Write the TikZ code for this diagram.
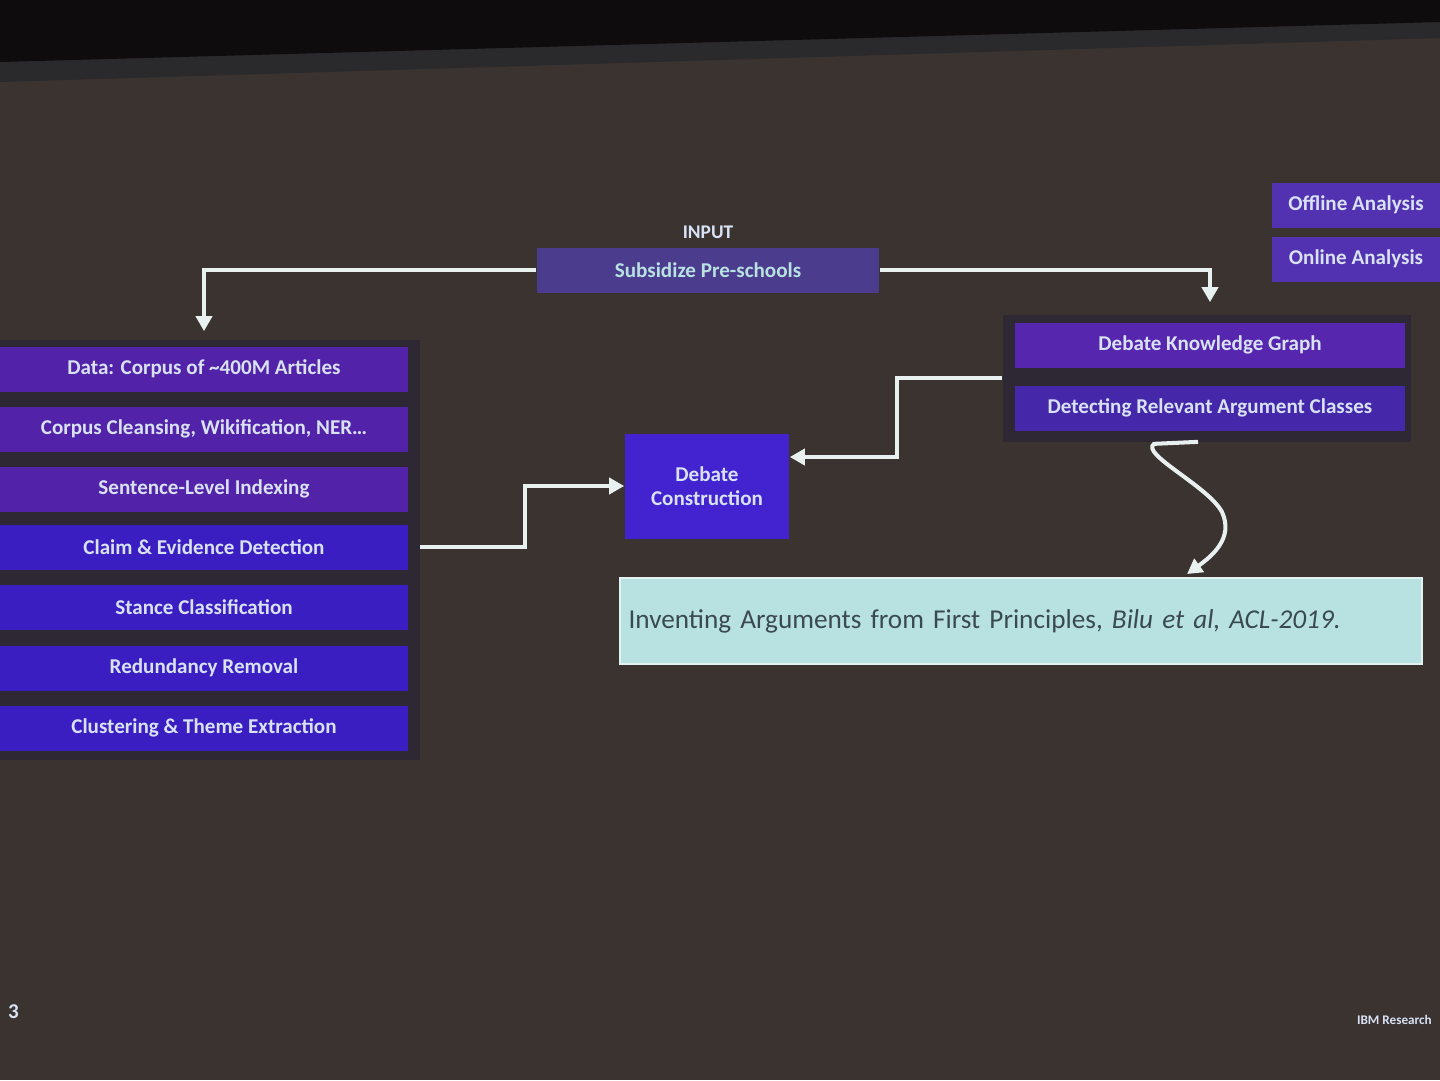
\documentclass[tikz,border=0pt]{standalone}
\usepackage{fontspec}
\setmainfont{Carlito}
\usepackage{xcolor}
\usetikzlibrary{arrows.meta}

\definecolor{slidebg}{HTML}{3B3330}
\definecolor{screenedge}{HTML}{0E0C0C}
\definecolor{screenrim}{HTML}{2A292C}
\definecolor{topicfill}{HTML}{4B3C8E}
\definecolor{purplebox}{HTML}{5222A8}
\definecolor{bluebox}{HTML}{3B1EC2}
\definecolor{dcfill}{HTML}{4322D0}
\definecolor{kgfill}{HTML}{5627AE}
\definecolor{argfill}{HTML}{4528AA}
\definecolor{anafill}{HTML}{5232B0}
\definecolor{panelfill}{HTML}{2E2834}
\definecolor{citefill}{HTML}{B8E2E2}
\definecolor{citeline}{HTML}{E2F2F2}
\definecolor{citetext}{HTML}{3A4A50}
\definecolor{boxtext}{HTML}{D8E2F4}
\definecolor{flowcol}{HTML}{E8F0F0}

\begin{document}
\begin{tikzpicture}[x=0.02cm, y=-0.02cm,
	box/.style={fill=#1, text=boxtext, font=\fontsize{12}{14}\selectfont\bfseries,
		inner sep=0pt, minimum height=0.9cm},
	stackbox/.style={box=#1, minimum width=8.16cm},
	flow/.style={draw=flowcol, line width=2.3pt, -{Triangle[length=0.3cm, width=0.32cm]}}]

\useasboundingbox (0,0) rectangle (1440,1080);
\clip (0,0) rectangle (1440,1080);

% slide and screen edge
\fill[slidebg] (0,0) rectangle (1440,1080);
\fill[screenrim] (0,0) -- (1440,0) -- (1440,38) -- (0,82) -- cycle;
\fill[screenedge] (0,0) -- (1440,0) -- (1440,22) -- (0,62) -- cycle;

% input topic
\node[text=boxtext, font=\fontsize{11}{13}\selectfont\bfseries] (inputlbl) at (708,232) {INPUT};
\node[box=topicfill, minimum width=6.86cm, text=citefill] (topic) at (708,270) {Subsidize Pre-schools};

% corpus pipeline
\node[fill=panelfill, minimum width=8.4cm, minimum height=8.4cm, inner sep=0pt] (corpus) at (210,550) {};
\node[stackbox=purplebox] (data) at (204,369) {Data: Corpus of \textasciitilde400M Articles};
\node[stackbox=purplebox] (cleansing) at (204,429) {Corpus Cleansing, Wikification, NER\dots};
\node[stackbox=purplebox] (indexing) at (204,489) {Sentence-Level Indexing};
\node[stackbox=bluebox] (claim) at (204,547) {Claim \& Evidence Detection};
\node[stackbox=bluebox] (stance) at (204,607) {Stance Classification};
\node[stackbox=bluebox] (redundancy) at (204,668) {Redundancy Removal};
\node[stackbox=bluebox] (clustering) at (204,728) {Clustering \& Theme Extraction};

% debate construction
\node[box=dcfill, minimum width=3.3cm, minimum height=2.1cm, align=center] (dc) at (707,486) {Debate\\Construction};

% knowledge graph side
\node[fill=panelfill, minimum width=8.18cm, minimum height=2.54cm, inner sep=0pt] (kgpanel) at (1207,378) {};
\node[box=kgfill, minimum width=7.8cm] (kg) at (1210,345) {Debate Knowledge Graph};
\node[box=argfill, minimum width=7.8cm] (argclass) at (1210,408) {Detecting Relevant Argument Classes};

\node[box=anafill, minimum width=3.36cm] (offline) at (1356,205) {Offline Analysis};
\node[box=anafill, minimum width=3.36cm] (online) at (1356,259) {Online Analysis};

% reference
\node[fill=citefill, draw=citeline, line width=1.2pt, minimum width=16.04cm, minimum height=1.72cm,
	text=citetext, font=\fontsize{15.5}{18}\selectfont, text width=15.7cm, align=left] (cite) at (1021,621)
	{Inventing Arguments from First Principles, \textit{Bilu et al, ACL-2019.}};

% connectors
\draw[flow, shorten >=0.3cm] (topic.west) -| (data.north);
\draw[flow, shorten >=0.4cm] (topic.east) -| (kg.north);
\draw[flow] (corpus.east |- claim) -- ++(105,0) |- (dc.west);
\draw[flow] (kgpanel.west) -- ++(-105,0) |- ([yshift=0.58cm]dc.east);
\draw[flow, shorten >=0.1cm] ([xshift=-0.18cm]kgpanel.south) -- ++(-44,2)
	.. controls ++(-14,10) and (1208,486) .. (1222,512)
	.. controls (1234,538) and (1212,556) .. ([xshift=3.24cm]cite.north);

% footer
\node[text=boxtext, font=\fontsize{12}{14}\selectfont\bfseries, anchor=west] (pagenum) at (2,1012) {3};
\node[text=boxtext, font=\fontsize{7.5}{9}\selectfont\bfseries, anchor=east] (footer) at (1438,1020) {IBM Research};

\end{tikzpicture}
\end{document}
